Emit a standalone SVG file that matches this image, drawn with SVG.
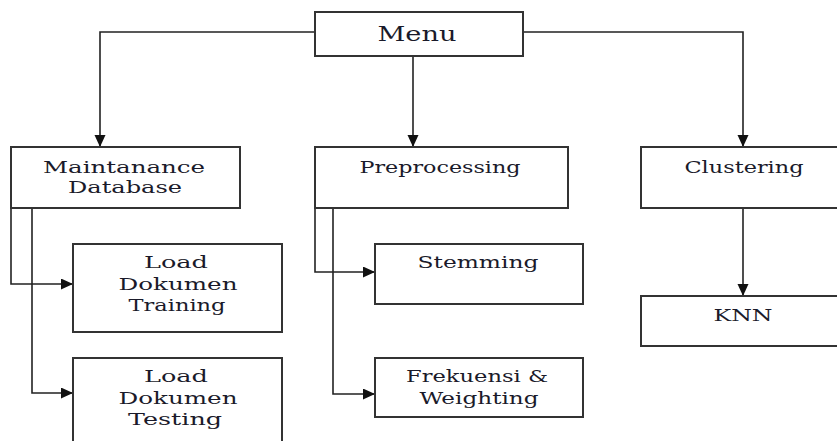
<svg xmlns="http://www.w3.org/2000/svg" width="837" height="441" viewBox="0 0 837 441">
  <style>
    .box { fill: #ffffff; stroke: #333333; stroke-width: 2; }
    .conn { fill: none; stroke: #222222; stroke-width: 1.6; }
    .lbl { font-family: "DejaVu Serif", "Liberation Serif", serif; font-size: 16px; fill: #1a1a2a; text-anchor: middle; }
    .big { font-size: 20px; }
  </style>
  <defs>
    <marker id="arr" markerUnits="userSpaceOnUse" markerWidth="13" markerHeight="12" refX="12" refY="5.5" orient="auto">
      <path d="M0,0 L12,5.5 L0,11 z" fill="#111111"/>
    </marker>
  </defs>
  <rect x="0" y="0" width="837" height="441" fill="#ffffff"/>

  <g id="connectors">
    <path class="conn" d="M315,32 H100 V147" marker-end="url(#arr)"/>
    <path class="conn" d="M413,56 V147" marker-end="url(#arr)"/>
    <path class="conn" d="M523,32 H743 V147" marker-end="url(#arr)"/>
    <path class="conn" d="M11,208 V284 H73" marker-end="url(#arr)"/>
    <path class="conn" d="M32,208 V393 H73" marker-end="url(#arr)"/>
    <path class="conn" d="M315,208 V272 H375" marker-end="url(#arr)"/>
    <path class="conn" d="M333,208 V394 H375" marker-end="url(#arr)"/>
    <path class="conn" d="M743,208 V296" marker-end="url(#arr)"/>
  </g>

  <g id="menu">
    <rect class="box" x="315" y="12" width="208" height="44"/>
    <text class="lbl big" x="417" y="41" textLength="79" lengthAdjust="spacingAndGlyphs">Menu</text>
  </g>

  <g id="maintanance">
    <rect class="box" x="11" y="147" width="229" height="61"/>
    <text class="lbl" x="124" y="173" textLength="162" lengthAdjust="spacingAndGlyphs">Maintanance</text>
    <text class="lbl" x="125" y="193" textLength="114" lengthAdjust="spacingAndGlyphs">Database</text>
  </g>

  <g id="load-training">
    <rect class="box" x="73" y="244" width="209" height="88"/>
    <text class="lbl" x="176" y="268" textLength="64" lengthAdjust="spacingAndGlyphs">Load</text>
    <text class="lbl" x="178" y="290" textLength="119" lengthAdjust="spacingAndGlyphs">Dokumen</text>
    <text class="lbl" x="177" y="311" textLength="97" lengthAdjust="spacingAndGlyphs">Training</text>
  </g>

  <g id="load-testing">
    <rect class="box" x="73" y="358" width="209" height="95"/>
    <text class="lbl" x="176" y="382" textLength="64" lengthAdjust="spacingAndGlyphs">Load</text>
    <text class="lbl" x="178" y="404" textLength="119" lengthAdjust="spacingAndGlyphs">Dokumen</text>
    <text class="lbl" x="175" y="425" textLength="94" lengthAdjust="spacingAndGlyphs">Testing</text>
  </g>

  <g id="preprocessing">
    <rect class="box" x="315" y="147" width="253" height="61"/>
    <text class="lbl" x="440" y="173" textLength="161" lengthAdjust="spacingAndGlyphs">Preprocessing</text>
  </g>

  <g id="stemming">
    <rect class="box" x="375" y="244" width="208" height="60"/>
    <text class="lbl" x="478" y="268" textLength="121" lengthAdjust="spacingAndGlyphs">Stemming</text>
  </g>

  <g id="frekuensi">
    <rect class="box" x="375" y="358" width="208" height="59"/>
    <text class="lbl" x="477" y="382" textLength="142" lengthAdjust="spacingAndGlyphs">Frekuensi &amp;</text>
    <text class="lbl" x="479" y="404" textLength="119" lengthAdjust="spacingAndGlyphs">Weighting</text>
  </g>

  <g id="clustering">
    <rect class="box" x="641" y="147" width="210" height="61"/>
    <text class="lbl" x="744" y="173" textLength="119" lengthAdjust="spacingAndGlyphs">Clustering</text>
  </g>

  <g id="knn">
    <rect class="box" x="641" y="296" width="210" height="50"/>
    <text class="lbl" x="743" y="321" textLength="59" lengthAdjust="spacingAndGlyphs">KNN</text>
  </g>
</svg>
